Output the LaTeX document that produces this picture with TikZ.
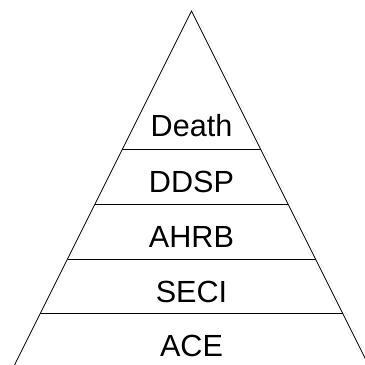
\documentclass[tikz,border=0pt]{standalone}
\usepackage{fontspec}
\setmainfont{Liberation Sans}
\begin{document}
\begin{tikzpicture}[x=1pt,y=1pt,
  edge/.style={draw=black,line width=0.85pt},
  tier/.style={anchor=base,inner sep=0pt,font=\fontsize{30.6}{36}\selectfont}]
  \clip (0,0) rectangle (365,365);
  % pyramid outline
  \coordinate (apex) at (191.5,354);
  \coordinate (bl) at (14.5,0);
  \coordinate (br) at (368.5,0);
  \draw[edge] (bl) -- (apex) -- (br);
  % tier dividers
  \foreach \y/\h in {215.3/1, 161/2, 106/3, 51.3/4} {
    \pgfmathsetmacro{\dx}{(354-\y)*0.5}
    \coordinate (l\h) at ({191.5-\dx},\y);
    \coordinate (r\h) at ({191.5+\dx},\y);
    \draw[edge] (l\h) -- (r\h);
  }
  % tier labels
  \node[tier] (death) at (191.5,228.3) {Death};
  \node[tier] (ddsp) at (191.5,172.3) {DDSP};
  \node[tier] (ahrb) at (191.5,117.7) {AHRB};
  \node[tier] (seci) at (191.5,62.7) {SECI};
  \node[tier] (ace) at (191.5,8.3) {ACE};
\end{tikzpicture}
\end{document}
